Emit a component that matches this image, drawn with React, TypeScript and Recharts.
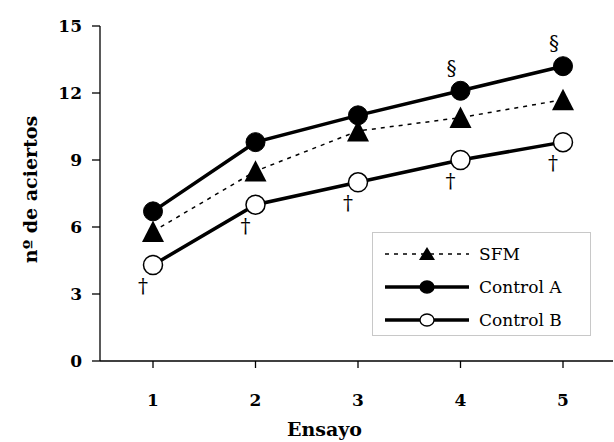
import React from "react";
import { LineChart, Line, XAxis, YAxis, LabelList } from "recharts";

const ensayos = ["1", "2", "3", "4", "5"];
const sfm = [5.8, 8.5, 10.3, 10.9, 11.7];
const controlA = [6.7, 9.8, 11.0, 12.1, 13.2];
const controlB = [4.3, 7.0, 8.0, 9.0, 9.8];
const marksA = ["", "", "", "§", "§"];
const marksB = ["†", "†", "†", "†", "†"];
const yTicks = [0, 3, 6, 9, 12, 15];

const FONT = "'DejaVu Serif', serif";

const data = ensayos.map((name, i) => ({
    name,
    sfm: sfm[i],
    controlA: controlA[i],
    controlB: controlB[i],
    markA: marksA[i],
    markB: marksB[i],
}));

// triangle marker for SFM
const TriangleDot = (props: any) => {
    const { cx, cy } = props;
    if (cx == null || cy == null) return null;
    const s = 11;
    return (
        <path
            d={`M${cx},${cy - s} L${cx + s},${cy + s * 0.95} L${cx - s},${cy + s * 0.95} Z`}
            fill="#000"
        />
    );
};

const markLabel = (dx: number, dy: number) => (props: any) => {
    const { x, y, value } = props;
    if (!value) return null;
    return (
        <text x={x + dx} y={y + dy} textAnchor="middle" fontSize={20} fontFamily={FONT} fill="#000">
            {value}
        </text>
    );
};

const LegendBox = () => {
    const rows = [
        { label: "SFM", kind: "tri" },
        { label: "Control A", kind: "filled" },
        { label: "Control B", kind: "open" },
    ];
    return (
        <div
            style={{
                position: "absolute",
                left: 372,
                top: 232,
                border: "1px solid #c8c8c8",
                background: "#fff",
                width: 217,
                height: 98,
                paddingTop: 4,
            }}
        >
            {rows.map((r) => (
                <div key={r.label} style={{ display: "flex", alignItems: "center", height: 33 }}>
                    <svg width={106} height={24} style={{ display: "block" }}>
                        {r.kind === "tri" ? (
                            <>
                                <line x1={12} y1={12} x2={96} y2={12} stroke="#000" strokeWidth={1.5} strokeDasharray="4 5" />
                                <path d="M54,5 L62,18 L46,18 Z" fill="#000" />
                            </>
                        ) : (
                            <>
                                <line x1={12} y1={12} x2={96} y2={12} stroke="#000" strokeWidth={3.5} />
                                <ellipse
                                    cx={54}
                                    cy={12}
                                    rx={7}
                                    ry={6}
                                    fill={r.kind === "filled" ? "#000" : "#fff"}
                                    stroke="#000"
                                    strokeWidth={1.3}
                                />
                            </>
                        )}
                    </svg>
                    <span style={{ fontFamily: FONT, fontSize: 17, color: "#000", lineHeight: "24px" }}>{r.label}</span>
                </div>
            ))}
        </div>
    );
};

export default function App() {
    return (
        <div style={{ position: "absolute", left: 0, top: 0, width: 614, height: 442, background: "#fff" }}>
            <LineChart width={614} height={442} data={data} margin={{ top: 26, right: 1, left: 0, bottom: 0 }}>
                <XAxis
                    dataKey="name"
                    height={81}
                    padding={{ left: 53, right: 50 }}
                    stroke="#000"
                    strokeWidth={1.3}
                    tickSize={7}
                    tickMargin={26}
                    tick={{ fill: "#000", fontSize: 17, fontWeight: "bold", fontFamily: FONT }}
                    label={{
                        content: (p: any) => {
                            const vb = p.viewBox;
                            return (
                                <text
                                    x={vb.x + vb.width / 2 - 32}
                                    y={vb.y + vb.height - 6}
                                    textAnchor="middle"
                                    fontSize={19}
                                    fontWeight="bold"
                                    fontFamily={FONT}
                                    fill="#000"
                                >
                                    Ensayo
                                </text>
                            );
                        },
                    }}
                />
                <YAxis
                    width={100}
                    domain={[0, 15]}
                    ticks={yTicks}
                    interval={0}
                    stroke="#000"
                    strokeWidth={1.3}
                    tickSize={8}
                    tickMargin={10}
                    tick={{ fill: "#000", fontSize: 17, fontWeight: "bold", fontFamily: FONT }}
                    label={{
                        content: (p: any) => {
                            const vb = p.viewBox;
                            const cx = vb.x + 30;
                            const cy = vb.y + vb.height / 2 - 4;
                            return (
                                <text
                                    x={cx}
                                    y={cy}
                                    transform={`rotate(-90, ${cx}, ${cy})`}
                                    textAnchor="middle"
                                    dominantBaseline="central"
                                    fontSize={19}
                                    fontWeight="bold"
                                    fontFamily={FONT}
                                    fill="#000"
                                >
                                    nº de aciertos
                                </text>
                            );
                        },
                    }}
                />
                <Line
                    type="linear"
                    dataKey="sfm"
                    name="SFM"
                    stroke="#000"
                    strokeWidth={1.5}
                    strokeDasharray="4 5"
                    dot={<TriangleDot />}
                    activeDot={false}
                    isAnimationActive={false}
                />
                <Line
                    type="linear"
                    dataKey="controlA"
                    name="Control A"
                    stroke="#000"
                    strokeWidth={3.5}
                    dot={{ r: 9.5, fill: "#000", stroke: "#000", strokeWidth: 1 }}
                    activeDot={false}
                    isAnimationActive={false}
                >
                    <LabelList dataKey="markA" content={markLabel(-9, -16)} />
                </Line>
                <Line
                    type="linear"
                    dataKey="controlB"
                    name="Control B"
                    stroke="#000"
                    strokeWidth={3.5}
                    dot={{ r: 9.5, fill: "#fff", stroke: "#000", strokeWidth: 1.5 }}
                    activeDot={false}
                    isAnimationActive={false}
                >
                    <LabelList dataKey="markB" content={markLabel(-10, 28)} />
                </Line>
            </LineChart>
            <LegendBox />
        </div>
    );
}
